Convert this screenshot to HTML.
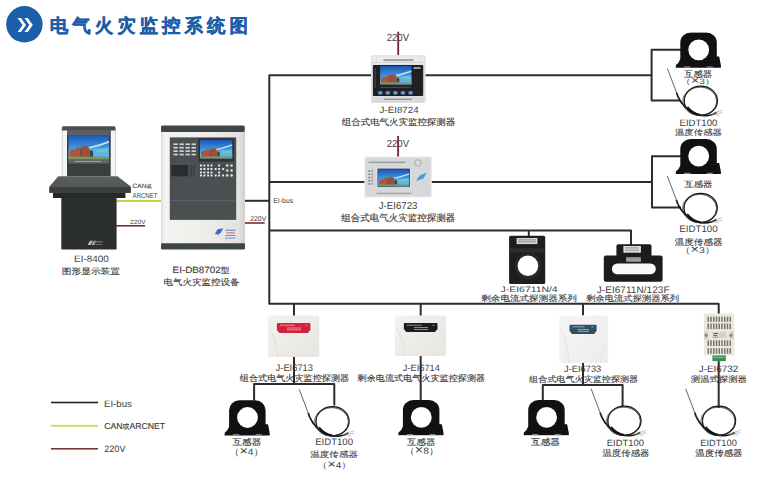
<!DOCTYPE html>
<html><head><meta charset="utf-8"><title>电气火灾监控系统图</title><style>
html,body{margin:0;padding:0;background:#fff;width:762px;height:481px;overflow:hidden;}
svg{display:block;}
text{font-family:"Liberation Sans",sans-serif;text-rendering:geometricPrecision;}
</style></head><body>
<svg width="762" height="481" viewBox="0 0 762 481">
<rect width="762" height="481" fill="#fff"/>
<defs>
<linearGradient id="sky" x1="0" y1="0" x2="0" y2="1">
<stop offset="0" stop-color="#1a55b8"/><stop offset="0.5" stop-color="#3d93dc"/><stop offset="1" stop-color="#8ccdf0"/>
</linearGradient>
<linearGradient id="cab" x1="0" y1="0" x2="1" y2="0">
<stop offset="0" stop-color="#d9d9d6"/><stop offset="0.04" stop-color="#f3f3f1"/><stop offset="0.5" stop-color="#efeeeb"/><stop offset="0.93" stop-color="#e3e2de"/><stop offset="1" stop-color="#cfcecb"/>
</linearGradient>
<linearGradient id="wdev" x1="0" y1="0" x2="1" y2="1">
<stop offset="0" stop-color="#f3f2f0"/><stop offset="1" stop-color="#e6e5e2"/>
</linearGradient>
<linearGradient id="wdev2" x1="0" y1="0" x2="1" y2="1">
<stop offset="0" stop-color="#f7f5f4"/><stop offset="1" stop-color="#eeeceb"/>
</linearGradient>
<linearGradient id="desk" x1="0" y1="0" x2="0" y2="1">
<stop offset="0" stop-color="#5c605d"/><stop offset="1" stop-color="#4c504e"/>
</linearGradient>
<symbol id="scr" viewBox="0 0 100 60" preserveAspectRatio="none">
<rect width="100" height="60" fill="url(#sky)"/>
<path d="M20,34 Q60,30 100,14 L100,19 Q62,34 24,37 Z" fill="#eaf6fc" opacity="0.8"/>
<path d="M52,34 Q78,33 100,30 L100,60 L52,60 Z" fill="#5fb4e6"/>
<path d="M70,36 L96,35 L96,41 L70,42 Z" fill="#7fcbb8" opacity="0.7"/>
<path d="M3,55 L3,40 L10,34 L16,36 L22,30 L30,31 L31,55 Z" fill="#a9573f"/>
<path d="M31,55 L31,31 L37,27 L44,26 L50,30 L53,36 L53,55 Z" fill="#9b4f3c"/>
<rect x="29.8" y="31" width="2" height="23" fill="#5a3a30"/>
<path d="M53,54 L53,40 L57,36 L61,41 L61,54 Z" fill="#3a4a3a"/>
<rect x="0" y="53" width="100" height="7" fill="#7d9660"/>
</symbol>
<symbol id="ct" viewBox="0 0 46 36" preserveAspectRatio="none">
<path d="M4.8,26.8 L4.8,10.5 A10.5,10 0 0 1 15.3,0.3 L30.8,0.3 A10.5,10 0 0 1 41.3,10.5 L41.3,24.4 L43.7,24.4 L45.4,33 L45.4,35.5 L0.2,35.5 L0.2,33 Q3.5,31 4.8,26.8 Z" fill="#111"/>
<circle cx="23.2" cy="17.6" r="10.4" fill="#fff"/>
<rect x="8.6" y="34.2" width="6.4" height="1.3" fill="#8a8a8a"/>
<rect x="31.3" y="34.2" width="6" height="1.3" fill="#8a8a8a"/>
</symbol>
<symbol id="ts" viewBox="0 0 56 50" overflow="visible">
<path d="M0,0 L9,23.7" stroke="#555" stroke-width="0.9" fill="none"/>
<path d="M9,23.7 L10.7,28.4" stroke="#222" stroke-width="1.8" fill="none"/>
<path d="M10.7,28.4 Q16,40 29.6,46 Q42,48.5 49,43.5" stroke="#111" stroke-width="1.6" fill="none"/>
<ellipse cx="33.3" cy="31.9" rx="16.6" ry="14.6" stroke="#111" stroke-width="1.3" fill="none"/>
<ellipse cx="32.2" cy="32.4" rx="17.2" ry="14.2" stroke="#333" stroke-width="0.6" fill="none"/>
<ellipse cx="32.9" cy="32.6" rx="16.4" ry="14.3" stroke="#333" stroke-width="0.5" fill="none"/>
<path d="M20,38 Q25,44.5 33,46" stroke="#111" stroke-width="1.4" fill="none"/>
<path d="M45,44.5 L55,41.5 M46,45 L55,44 M44,45.5 L52,46.5" stroke="#888" stroke-width="0.5" fill="none"/>
</symbol>
</defs>
<circle cx="24.4" cy="24.3" r="18.2" fill="#1b5ea9"/>
<path d="M17.6,18 L22.6,25 L17.6,32 L21,32 L26,25 L21,18 Z M24.4,18 L29.4,25 L24.4,32 L27.8,32 L32.8,25 L27.8,18 Z" fill="#fff"/>
<text transform="translate(49.690 32.233) scale(0.18505 0.18544)" font-size="100" font-weight="bold" letter-spacing="21.5" fill="#1b5ea9" stroke="#1b5ea9" stroke-width="3">电气火灾监控系统图</text>
<text transform="translate(386.722 41.294) scale(0.09561 0.10563)" font-size="100" font-weight="500" fill="#404040">220V</text>
<text transform="translate(379.504 112.910) scale(0.09797 0.09014)" font-size="100" font-weight="500" fill="#404040">J-EI8724</text>
<text transform="translate(341.806 125.457) scale(0.09447 0.08878)" font-size="100" font-weight="500" fill="#3a3a3a" stroke="#3a3a3a" stroke-width="1.5">组合式电气火灾监控探测器</text>
<text transform="translate(386.722 147.099) scale(0.09561 0.10141)" font-size="100" font-weight="500" fill="#404040">220V</text>
<text transform="translate(378.707 208.899) scale(0.09670 0.10141)" font-size="100" font-weight="500" fill="#404040">J-EI6723</text>
<text transform="translate(341.305 221.086) scale(0.09505 0.09388)" font-size="100" font-weight="500" fill="#3a3a3a" stroke="#3a3a3a" stroke-width="1.5">组合式电气火灾监控探测器</text>
<text transform="translate(273.143 202.930) scale(0.06968 0.06986)" font-size="100" font-weight="500" fill="#404040">EI-bus</text>
<text transform="translate(250.258 220.930) scale(0.06842 0.07042)" font-size="100" font-weight="500" fill="#404040">220V</text>
<text transform="translate(132.568 188.342) scale(0.06643 0.06203)" font-size="100" font-weight="500" fill="#3a3a3a" stroke="#3a3a3a" stroke-width="1.5">CAN<tspan font-size="80">或</tspan></text>
<text transform="translate(132.600 197.628) scale(0.06039 0.07183)" font-size="100" font-weight="500" fill="#404040">ARCNET</text>
<text transform="translate(130.064 223.838) scale(0.06711 0.06197)" font-size="100" font-weight="500" fill="#404040">220V</text>
<text transform="translate(74.109 262.007) scale(0.09882 0.09296)" font-size="100" font-weight="500" fill="#404040">EI-8400</text>
<text transform="translate(61.824 273.978) scale(0.09694 0.08144)" font-size="100" font-weight="500" fill="#3a3a3a" stroke="#3a3a3a" stroke-width="1.5">图形显示装置</text>
<text transform="translate(172.614 272.986) scale(0.09823 0.09136)" font-size="100" font-weight="500" fill="#3a3a3a" stroke="#3a3a3a" stroke-width="1.5">EI-DB8702<tspan font-size="88">型</tspan></text>
<text transform="translate(163.536 285.000) scale(0.09492 0.08571)" font-size="100" font-weight="500" fill="#3a3a3a" stroke="#3a3a3a" stroke-width="1.5">电气火灾监控设备</text>
<text transform="translate(684.113 77.266) scale(0.09349 0.08617)" font-size="100" font-weight="500" fill="#3a3a3a" stroke="#3a3a3a" stroke-width="1.5">互感器</text>
<text transform="translate(680.837 84.380) scale(0.10096 0.07766)" font-size="100" font-weight="500" fill="#404040">（<tspan font-size="140">×</tspan>3）</text>
<text transform="translate(679.533 125.807) scale(0.09582 0.09296)" font-size="100" font-weight="500" fill="#404040">EIDT100</text>
<text transform="translate(674.912 135.033) scale(0.09411 0.07778)" font-size="100" font-weight="500" fill="#3a3a3a" stroke="#3a3a3a" stroke-width="1.5">温度传感器</text>
<text transform="translate(684.313 187.017) scale(0.09349 0.08191)" font-size="100" font-weight="500" fill="#3a3a3a" stroke="#3a3a3a" stroke-width="1.5">互感器</text>
<text transform="translate(679.325 232.006) scale(0.09687 0.09437)" font-size="100" font-weight="500" fill="#404040">EIDT100</text>
<text transform="translate(674.709 244.742) scale(0.09573 0.08384)" font-size="100" font-weight="500" fill="#3a3a3a" stroke="#3a3a3a" stroke-width="1.5">温度传感器</text>
<text transform="translate(679.987 253.489) scale(0.10481 0.08298)" font-size="100" font-weight="500" fill="#404040">（<tspan font-size="140">×</tspan>3）</text>
<text transform="translate(500.592 292.221) scale(0.10405 0.07945)" font-size="100" font-weight="500" fill="#404040">J-EI6711N/4</text>
<text transform="translate(481.309 301.186) scale(0.09556 0.07959)" font-size="100" font-weight="500" fill="#3a3a3a" stroke="#3a3a3a" stroke-width="1.5">剩余电流式探测器系列</text>
<text transform="translate(596.798 292.704) scale(0.10098 0.09589)" font-size="100" font-weight="500" fill="#404040">J-EI6711N/123F</text>
<text transform="translate(586.214 301.186) scale(0.09284 0.07959)" font-size="100" font-weight="500" fill="#3a3a3a" stroke="#3a3a3a" stroke-width="1.5">剩余电流式探测器系列</text>
<text transform="translate(275.613 370.904) scale(0.09340 0.09577)" font-size="100" font-weight="500" fill="#404040">J-EI6713</text>
<text transform="translate(239.809 380.800) scale(0.09111 0.08571)" font-size="100" font-weight="500" fill="#3a3a3a" stroke="#3a3a3a" stroke-width="1.5">组合式电气火灾监控探测器</text>
<text transform="translate(402.815 371.008) scale(0.09241 0.09155)" font-size="100" font-weight="500" fill="#404040">J-EI6714</text>
<text transform="translate(357.618 380.829) scale(0.09109 0.08367)" font-size="100" font-weight="500" fill="#3a3a3a" stroke="#3a3a3a" stroke-width="1.5">剩余电流式电气火灾监控探测器</text>
<text transform="translate(564.115 371.908) scale(0.09264 0.09155)" font-size="100" font-weight="500" fill="#404040">J-EI6733</text>
<text transform="translate(529.109 381.571) scale(0.09086 0.08061)" font-size="100" font-weight="500" fill="#3a3a3a" stroke="#3a3a3a" stroke-width="1.5">组合式电气火灾监控探测器</text>
<text transform="translate(698.702 371.607) scale(0.09898 0.09296)" font-size="100" font-weight="500" fill="#404040">J-EI6732</text>
<text transform="translate(690.813 381.748) scale(0.09341 0.08229)" font-size="100" font-weight="500" fill="#3a3a3a" stroke="#3a3a3a" stroke-width="1.5">测温式探测器</text>
<text transform="translate(232.508 444.766) scale(0.09589 0.08617)" font-size="100" font-weight="500" fill="#3a3a3a" stroke="#3a3a3a" stroke-width="1.5">互感器</text>
<text transform="translate(229.244 454.863) scale(0.10240 0.09043)" font-size="100" font-weight="500" fill="#404040">（<tspan font-size="140">×</tspan>4）</text>
<text transform="translate(315.236 444.606) scale(0.09556 0.09437)" font-size="100" font-weight="500" fill="#404040">EIDT100</text>
<text transform="translate(310.309 456.818) scale(0.09533 0.07879)" font-size="100" font-weight="500" fill="#3a3a3a" stroke="#3a3a3a" stroke-width="1.5">温度传感器</text>
<text transform="translate(317.369 468.471) scale(0.10048 0.08404)" font-size="100" font-weight="500" fill="#404040">（<tspan font-size="140">×</tspan>4）</text>
<text transform="translate(406.910 444.679) scale(0.09486 0.08511)" font-size="100" font-weight="500" fill="#3a3a3a" stroke="#3a3a3a" stroke-width="1.5">互感器</text>
<text transform="translate(404.544 454.045) scale(0.10240 0.09149)" font-size="100" font-weight="500" fill="#404040">（<tspan font-size="140">×</tspan>8）</text>
<text transform="translate(531.007 445.053) scale(0.09658 0.08723)" font-size="100" font-weight="500" fill="#3a3a3a" stroke="#3a3a3a" stroke-width="1.5">互感器</text>
<text transform="translate(606.746 445.708) scale(0.09426 0.09155)" font-size="100" font-weight="500" fill="#404040">EIDT100</text>
<text transform="translate(602.412 455.758) scale(0.09411 0.08283)" font-size="100" font-weight="500" fill="#3a3a3a" stroke="#3a3a3a" stroke-width="1.5">温度传感器</text>
<text transform="translate(700.258 445.708) scale(0.09269 0.09155)" font-size="100" font-weight="500" fill="#404040">EIDT100</text>
<text transform="translate(695.311 455.642) scale(0.09451 0.08384)" font-size="100" font-weight="500" fill="#3a3a3a" stroke="#3a3a3a" stroke-width="1.5">温度传感器</text>
<text transform="translate(103.926 406.807) scale(0.09675 0.09315)" font-size="100" font-weight="500" fill="#404040">EI-bus</text>
<text transform="translate(104.267 428.725) scale(0.08662 0.08608)" font-size="100" font-weight="500" fill="#3a3a3a" stroke="#3a3a3a" stroke-width="1.5">CAN<tspan font-size="80">或</tspan>ARCNET</text>
<text transform="translate(104.246 452.007) scale(0.09079 0.09296)" font-size="100" font-weight="500" fill="#404040">220V</text>
<path d="M372,75.3 H269.3 V303.8 H718.7 V314" fill="none" stroke="#2d2d2d" stroke-width="2" stroke-linejoin="round"/>
<path d="M425,75.3 H651.6" fill="none" stroke="#2d2d2d" stroke-width="2" stroke-linejoin="round"/>
<path d="M681,49.7 H651.6 V100.5 H680" fill="none" stroke="#2d2d2d" stroke-width="2" stroke-linejoin="round"/>
<path d="M269.3,181.9 H365" fill="none" stroke="#2d2d2d" stroke-width="2" stroke-linejoin="round"/>
<path d="M431,181.9 H652" fill="none" stroke="#2d2d2d" stroke-width="2" stroke-linejoin="round"/>
<path d="M681,156.2 H652 V207.6 H681" fill="none" stroke="#2d2d2d" stroke-width="2" stroke-linejoin="round"/>
<path d="M269.3,230.4 H631 V245" fill="none" stroke="#2d2d2d" stroke-width="2" stroke-linejoin="round"/>
<path d="M528.8,230.4 V236.5" fill="none" stroke="#2d2d2d" stroke-width="2" stroke-linejoin="round"/>
<path d="M245,200.8 H269.3" fill="none" stroke="#2d2d2d" stroke-width="2" stroke-linejoin="round"/>
<path d="M718.7,361 V408" fill="none" stroke="#2d2d2d" stroke-width="2" stroke-linejoin="round"/>
<path d="M294,303.8 V316" fill="none" stroke="#2d2d2d" stroke-width="2" stroke-linejoin="round"/>
<path d="M294,356.5 V384" fill="none" stroke="#2d2d2d" stroke-width="2" stroke-linejoin="round"/>
<path d="M254.1,400.5 V384 H334.3 V405.5" fill="none" stroke="#2d2d2d" stroke-width="2" stroke-linejoin="round"/>
<path d="M420.7,303.8 V316" fill="none" stroke="#2d2d2d" stroke-width="2" stroke-linejoin="round"/>
<path d="M420.7,355.5 V400.5" fill="none" stroke="#2d2d2d" stroke-width="2" stroke-linejoin="round"/>
<path d="M583,303.8 V315.5" fill="none" stroke="#2d2d2d" stroke-width="2" stroke-linejoin="round"/>
<path d="M583,362.5 V385" fill="none" stroke="#2d2d2d" stroke-width="2" stroke-linejoin="round"/>
<path d="M542.8,400.5 V385 H622.6 V406.5" fill="none" stroke="#2d2d2d" stroke-width="2" stroke-linejoin="round"/>
<rect x="397.25" y="31.7" width="1.9" height="23.5" fill="#7d2c38"/>
<rect x="397.15" y="136" width="1.9" height="21" fill="#7d2c38"/>
<rect x="115.8" y="225" width="29.2" height="1.6" fill="#7d2c38"/>
<rect x="245" y="222.2" width="19.7" height="1.6" fill="#7d2c38"/>
<rect x="116.5" y="200" width="45" height="2" fill="#bdd635"/>
<rect x="51" y="401.7" width="47" height="1.6" fill="#222"/>
<rect x="51" y="424.9" width="47" height="1.8" fill="#c5dc4e"/>
<rect x="51" y="448" width="47" height="1.6" fill="#7a3a3a"/>
<g>
<rect x="61.7" y="127" width="54" height="49.5" fill="#f5f5f5"/>
<rect x="61.7" y="127" width="0.8" height="49.5" fill="#c8c8c8"/>
<rect x="114.9" y="127" width="0.8" height="49.5" fill="#c8c8c8"/>
<path d="M62.5,126.2 L115,126.2 L115.7,130.6 L61.7,130.6 Z" fill="#4b4f52"/>
<rect x="67" y="130.3" width="43.7" height="46" fill="#3a3e3d"/>
<rect x="67" y="130.3" width="43.7" height="4.7" fill="#5b5f5e"/>
<use href="#scr" x="68.3" y="135" width="40.7" height="24.5"/>
<rect x="68.3" y="159.3" width="40.7" height="4.2" fill="#62676a"/>
<rect x="75" y="161" width="26" height="1" fill="#9a9ea0"/>
<rect x="61.3" y="190" width="55.3" height="59.6" rx="0.8" fill="#2b2f2d"/>
<rect x="53" y="192.5" width="72.4" height="5.5" fill="#252a27"/>
<path d="M58.3,176.2 L117.5,176.2 L130.8,186.6 L130.8,192.8 L49.4,192.8 L49.4,186.6 Z" fill="url(#desk)"/>
<rect x="49.4" y="187.2" width="81.4" height="5.6" fill="#3a3f3c"/>
<path d="M87.5,245 L90,240.8 L93,240.8 L90.5,245 Z M91.5,245 L94,240.8 L96,240.8 L93.5,245 Z" fill="#b8bcbb"/>
<rect x="94" y="241.4" width="8.5" height="0.9" fill="#8a8e8d"/><rect x="94" y="243.9" width="8.5" height="0.8" fill="#7a7e7d"/>
</g>
<g>
<rect x="161" y="126" width="84" height="123" rx="1" fill="url(#cab)"/>
<rect x="161" y="125.4" width="83.7" height="6.5" rx="1.5" fill="#3e4547"/>
<rect x="161" y="243.2" width="84" height="6.3" rx="1.2" fill="#3e4547"/>
<rect x="169.8" y="137.4" width="66.4" height="82.5" fill="#4a4f52"/>
<rect x="169.8" y="200" width="66.4" height="0.7" fill="#63686b"/>
<rect x="198.5" y="138.3" width="35.5" height="23.2" fill="#2f3335"/>
<use href="#scr" x="200" y="139.9" width="32.4" height="18.7"/>
<rect x="171.4" y="165" width="16.7" height="11.3" fill="#2a2d2f"/>
<rect x="190.6" y="165" width="1.3" height="11.3" fill="#3a3e40"/>
<rect x="193" y="165" width="1.3" height="11.3" fill="#3a3e40"/>

<rect x="173.4" y="143.4" width="4.4" height="1.7" fill="#cfd2d4"/>
<rect x="179.4" y="143.4" width="4.4" height="1.7" fill="#cfd2d4"/>
<rect x="185.5" y="143.4" width="4.4" height="1.7" fill="#cfd2d4"/>
<rect x="191.5" y="143.4" width="4.4" height="1.7" fill="#cfd2d4"/>
<rect x="173.4" y="146.9" width="4.4" height="1.7" fill="#cfd2d4"/>
<rect x="179.4" y="146.9" width="4.4" height="1.7" fill="#cfd2d4"/>
<rect x="185.5" y="146.9" width="4.4" height="1.7" fill="#cfd2d4"/>
<rect x="191.5" y="146.9" width="4.4" height="1.7" fill="#cfd2d4"/>
<rect x="173.4" y="150.3" width="4.4" height="1.7" fill="#cfd2d4"/>
<rect x="179.4" y="150.3" width="4.4" height="1.7" fill="#cfd2d4"/>
<rect x="185.5" y="150.3" width="4.4" height="1.7" fill="#cfd2d4"/>
<rect x="191.5" y="150.3" width="4.4" height="1.7" fill="#cfd2d4"/>
<rect x="173.4" y="153.7" width="4.4" height="1.7" fill="#cfd2d4"/>
<rect x="179.4" y="153.7" width="4.4" height="1.7" fill="#cfd2d4"/>
<rect x="185.5" y="153.7" width="4.4" height="1.7" fill="#cfd2d4"/>
<rect x="191.5" y="153.7" width="4.4" height="1.7" fill="#cfd2d4"/>
<rect x="200" y="164.5" width="2" height="2" rx="0.4" fill="#e8eaeb"/>
<rect x="200" y="168" width="2" height="2" rx="0.4" fill="#e8eaeb"/>
<rect x="200" y="171.4" width="2" height="2" rx="0.4" fill="#e8eaeb"/>
<rect x="200" y="174.4" width="2" height="2" rx="0.4" fill="#e8eaeb"/>
<rect x="203.4" y="164.5" width="2" height="2" rx="0.4" fill="#e8eaeb"/>
<rect x="203.4" y="168" width="2" height="2" rx="0.4" fill="#e8eaeb"/>
<rect x="203.4" y="171.4" width="2" height="2" rx="0.4" fill="#e8eaeb"/>
<rect x="203.4" y="174.4" width="2" height="2" rx="0.4" fill="#e8eaeb"/>
<rect x="207.1" y="164.5" width="2" height="2" rx="0.4" fill="#e8eaeb"/>
<rect x="207.1" y="168" width="2" height="2" rx="0.4" fill="#e8eaeb"/>
<rect x="207.1" y="171.4" width="2" height="2" rx="0.4" fill="#e8eaeb"/>
<rect x="207.1" y="174.4" width="2" height="2" rx="0.4" fill="#e8eaeb"/>
<rect x="210.5" y="164.5" width="2" height="2" rx="0.4" fill="#e8eaeb"/>
<rect x="210.5" y="168" width="2" height="2" rx="0.4" fill="#e8eaeb"/>
<rect x="210.5" y="171.4" width="2" height="2" rx="0.4" fill="#e8eaeb"/>
<rect x="210.5" y="174.4" width="2" height="2" rx="0.4" fill="#e8eaeb"/>
<rect x="214.7" y="168" width="2" height="2" rx="0.4" fill="#e8eaeb"/>
<rect x="214.7" y="174.4" width="2" height="2" rx="0.4" fill="#e8eaeb"/>
<rect x="218.1" y="164.5" width="2" height="2" rx="0.4" fill="#e8eaeb"/>
<rect x="218.1" y="168" width="2" height="2" rx="0.4" fill="#e8eaeb"/>
<rect x="218.1" y="171.4" width="2" height="2" rx="0.4" fill="#e8eaeb"/>
<rect x="218.1" y="174.4" width="2" height="2" rx="0.4" fill="#e8eaeb"/>
<rect x="222.1" y="168" width="2" height="2" rx="0.4" fill="#e8eaeb"/>
<rect x="222.1" y="174.4" width="2" height="2" rx="0.4" fill="#e8eaeb"/>
<circle cx="227.2" cy="165.5" r="1.3" fill="#d9dcdd"/>
<circle cx="231.6" cy="165.5" r="1.3" fill="#d9dcdd"/>
<circle cx="227.2" cy="170.5" r="1.3" fill="#d9dcdd"/>
<circle cx="231.6" cy="170.5" r="1.3" fill="#d9dcdd"/>
<circle cx="227.2" cy="175.4" r="1.3" fill="#d9dcdd"/>
<circle cx="231.6" cy="175.4" r="1.3" fill="#d9dcdd"/>
<path d="M214.8,234.3 L217.5,229.3 L223.2,228.3 L220.5,233.3 Z" fill="#2f6fd0"/>
<path d="M216.5,234.8 L219,231 L221,231 L218.5,234.8 Z" fill="#2f6fd0"/>
<rect x="225.5" y="229.7" width="10" height="1" fill="#4a82d8"/>
<rect x="226.5" y="232.4" width="8" height="1" fill="#d45a5a"/>
<rect x="225" y="235" width="10.5" height="0.9" fill="#5a8ad8"/>
<rect x="225" y="237.6" width="10.5" height="0.9" fill="#5a8ad8"/>
</g>
<g>
<rect x="371" y="55.2" width="54.6" height="47.8" rx="1" fill="#e0e0e0"/>
<rect x="372.5" y="56.5" width="51.6" height="7.8" fill="#ebebeb"/>
<rect x="383.4" y="59.1" width="30.3" height="2" fill="#a4a4a4"/>
<rect x="372.5" y="62.1" width="51.6" height="0.6" fill="#c4c4c4"/>
<rect x="376" y="56.5" width="0.5" height="5.5" fill="#d0d0d0"/><rect x="420" y="56.5" width="0.5" height="5.5" fill="#d0d0d0"/>
<rect x="372.9" y="64.9" width="50.3" height="31.1" rx="1" fill="#1f2023"/>
<use href="#scr" x="380.1" y="66" width="31.5" height="18.6"/>
<rect x="380.5" y="86.8" width="30" height="0.9" fill="#555"/>
<rect x="374.3" y="68" width="1.6" height="20" fill="#3c3c3c"/>
<rect x="413.5" y="67" width="7" height="2" fill="#9a9a9a"/>

<ellipse cx="380.3" cy="92.9" rx="2.4" ry="1.8" fill="#6b8fd3"/>
<ellipse cx="387.8" cy="92.9" rx="2.4" ry="1.8" fill="#6b8fd3"/>
<ellipse cx="395.4" cy="92.9" rx="2.4" ry="1.8" fill="#6b8fd3"/>
<ellipse cx="402.9" cy="92.9" rx="2.4" ry="1.8" fill="#6b8fd3"/>
<ellipse cx="410.6" cy="92.9" rx="2.4" ry="1.8" fill="#6b8fd3"/>
<rect x="372.5" y="96.8" width="51.6" height="5.6" fill="#d9d9d9"/>
<rect x="384" y="98.6" width="28" height="1.2" fill="#8a8a8a"/>
</g>
<g>
<rect x="364.3" y="156.5" width="67.6" height="41.1" rx="1.2" fill="#ececed"/>
<rect x="365.4" y="157.6" width="65.4" height="38.9" fill="#d7d8da"/>
<rect x="368.6" y="161.6" width="36.8" height="1.5" fill="#9a9ca0"/>
<circle cx="418" cy="163" r="3.3" fill="none" stroke="#8a8c90" stroke-width="0.6"/>
<rect x="376.6" y="167.8" width="34.2" height="20.2" fill="#e4e5e7"/>
<rect x="377.5" y="168.6" width="32.4" height="18.5" fill="#27365a"/>
<use href="#scr" x="378.1" y="169.2" width="31.2" height="17.3"/>
<path d="M416,181 L419.5,175.5 L426.5,172.8 L423.5,178.5 Z" fill="#3aa2e2"/>
<rect x="376.5" y="192.6" width="35" height="1.5" fill="#a6a8ac"/>

<rect x="368.5" y="170.5" width="1.3" height="1.3" fill="#555"/><rect x="370.8" y="170" width="2.5" height="2" fill="#aaa"/>
<rect x="368.5" y="173.7" width="1.3" height="1.3" fill="#555"/><rect x="370.8" y="173.2" width="2.5" height="2" fill="#aaa"/>
<rect x="368.5" y="176.9" width="1.3" height="1.3" fill="#555"/><rect x="370.8" y="176.4" width="2.5" height="2" fill="#aaa"/>
<rect x="368.5" y="180.1" width="1.3" height="1.3" fill="#555"/><rect x="370.8" y="179.6" width="2.5" height="2" fill="#aaa"/>
<rect x="368.5" y="183.3" width="1.3" height="1.3" fill="#555"/><rect x="370.8" y="182.8" width="2.5" height="2" fill="#aaa"/>
</g>
<g>
<rect x="509.1" y="235.8" width="36.1" height="48.2" rx="1.5" fill="#1e1e1e"/>
<rect x="516.6" y="238" width="20.8" height="6.1" fill="#d9d9d9"/>
<rect x="518" y="239.5" width="18" height="0.8" fill="#777"/><rect x="518" y="241.5" width="18" height="0.8" fill="#777"/>
<rect x="510" y="248.3" width="34.3" height="4.1" fill="#2e2e2e"/>
<circle cx="527.9" cy="265.7" r="13.2" fill="#282828"/>
<circle cx="527.9" cy="265.7" r="10.3" fill="#fff"/>
</g>
<g>
<rect x="616.4" y="244.3" width="35.1" height="13" rx="2" fill="#1c1c1c"/>
<rect x="623.4" y="246" width="17.5" height="6.7" fill="#e2e2e2"/>
<rect x="625" y="247.5" width="14" height="0.8" fill="#777"/><rect x="625" y="249.8" width="14" height="0.8" fill="#777"/>
<rect x="603.8" y="255.4" width="58.8" height="26.4" rx="2" fill="#1c1c1c"/>
<rect x="626.1" y="257.2" width="14.8" height="4.6" fill="#9c9c9c"/>
<rect x="611.9" y="263.5" width="43.9" height="10.8" rx="5.4" fill="#fafafa"/>
</g>
<rect x="267.9" y="315.4" width="51.4" height="41.6" rx="2" fill="url(#wdev)"/>
<path d="M269.4,327.88 Q275.9,338.28 277.9,357" stroke="#d6d5d3" stroke-width="0.6" fill="none"/>
<path d="M317.8,338.28 Q312.3,346.6 311.3,357" stroke="#e0dfdd" stroke-width="0.5" fill="none"/>
<path d="M277.9,323 L309.4,323 Q310.4,323 310.4,324 L310.4,329.9 L307.9,332.9 L279.4,332.9 L276.9,329.9 L276.9,324 Q276.9,323 277.9,323 Z" fill="#d2223c"/>
<rect x="279.9" y="324.8" width="15.08" height="0.7" fill="#fff" opacity="0.7"/>
<rect x="305.4" y="324.8" width="2" height="0.7" fill="#fff" opacity="0.7"/>
<rect x="286.95" y="327.65" width="14.07" height="0.7" fill="#fff" opacity="0.7"/>
<rect x="286.95" y="329.53" width="14.07" height="0.7" fill="#fff" opacity="0.7"/>
<rect x="394.9" y="315.4" width="51.3" height="40.5" rx="2" fill="url(#wdev)"/>
<path d="M396.4,327.55 Q402.9,337.67 404.9,355.9" stroke="#d6d5d3" stroke-width="0.6" fill="none"/>
<path d="M444.7,337.67 Q439.2,345.77 438.2,355.9" stroke="#e0dfdd" stroke-width="0.5" fill="none"/>
<path d="M404.8,323 L436.5,323 Q437.5,323 437.5,324 L437.5,329.1 L435,332.1 L406.3,332.1 L403.8,329.1 L403.8,324 Q403.8,323 404.8,323 Z" fill="#1d1d1f"/>
<rect x="406.8" y="324.8" width="15.17" height="0.7" fill="#fff" opacity="0.7"/>
<rect x="432.5" y="324.8" width="2" height="0.7" fill="#fff" opacity="0.7"/>
<rect x="413.91" y="327.28" width="14.15" height="0.7" fill="#fff" opacity="0.7"/>
<rect x="413.91" y="329.01" width="14.15" height="0.7" fill="#fff" opacity="0.7"/>
<rect x="559.2" y="315.4" width="48.9" height="47.7" rx="2" fill="url(#wdev2)"/>
<path d="M560.7,329.71 Q567.2,341.63 569.2,363.1" stroke="#d6d5d3" stroke-width="0.6" fill="none"/>
<path d="M606.6,341.63 Q601.1,351.17 600.1,363.1" stroke="#e0dfdd" stroke-width="0.5" fill="none"/>
<path d="M570.5,324.7 L595.6,324.7 Q596.6,324.7 596.6,325.7 L596.6,331.1 L594.1,334.1 L572,334.1 L569.5,331.1 L569.5,325.7 Q569.5,324.7 570.5,324.7 Z" fill="#2f5064"/>
<rect x="572.5" y="326.5" width="12.2" height="0.7" fill="#fff" opacity="0.7"/>
<rect x="591.6" y="326.5" width="2" height="0.7" fill="#fff" opacity="0.7"/>
<rect x="577.63" y="329.12" width="11.38" height="0.7" fill="#fff" opacity="0.7"/>
<rect x="577.63" y="330.9" width="11.38" height="0.7" fill="#fff" opacity="0.7"/>
<g>
<rect x="703.9" y="313.4" width="30.4" height="42.3" rx="1" fill="#ebe8df"/>
<rect x="712.4" y="355.5" width="13.4" height="5.6" fill="#3b8c57"/>
<rect x="713.5" y="357" width="11" height="1" fill="#7cc08e"/>

<rect x="707.5" y="316.7" width="1.5" height="5.1" fill="#77756d"/>
<rect x="707.5" y="323.5" width="1.5" height="5.6" fill="#77756d"/>
<rect x="707.5" y="340.3" width="1.5" height="5.7" fill="#77756d"/>
<rect x="707.5" y="348.2" width="1.5" height="5.6" fill="#77756d"/>
<rect x="710.25" y="316.7" width="1.5" height="5.1" fill="#77756d"/>
<rect x="710.25" y="323.5" width="1.5" height="5.6" fill="#77756d"/>
<rect x="710.25" y="340.3" width="1.5" height="5.7" fill="#77756d"/>
<rect x="710.25" y="348.2" width="1.5" height="5.6" fill="#77756d"/>
<rect x="713" y="316.7" width="1.5" height="5.1" fill="#77756d"/>
<rect x="713" y="323.5" width="1.5" height="5.6" fill="#77756d"/>
<rect x="713" y="340.3" width="1.5" height="5.7" fill="#77756d"/>
<rect x="713" y="348.2" width="1.5" height="5.6" fill="#77756d"/>
<rect x="715.75" y="316.7" width="1.5" height="5.1" fill="#77756d"/>
<rect x="715.75" y="323.5" width="1.5" height="5.6" fill="#77756d"/>
<rect x="715.75" y="340.3" width="1.5" height="5.7" fill="#77756d"/>
<rect x="715.75" y="348.2" width="1.5" height="5.6" fill="#77756d"/>
<rect x="718.5" y="316.7" width="1.5" height="5.1" fill="#77756d"/>
<rect x="718.5" y="323.5" width="1.5" height="5.6" fill="#77756d"/>
<rect x="718.5" y="340.3" width="1.5" height="5.7" fill="#77756d"/>
<rect x="718.5" y="348.2" width="1.5" height="5.6" fill="#77756d"/>
<rect x="721.25" y="316.7" width="1.5" height="5.1" fill="#77756d"/>
<rect x="721.25" y="323.5" width="1.5" height="5.6" fill="#77756d"/>
<rect x="721.25" y="340.3" width="1.5" height="5.7" fill="#77756d"/>
<rect x="721.25" y="348.2" width="1.5" height="5.6" fill="#77756d"/>
<rect x="724" y="316.7" width="1.5" height="5.1" fill="#77756d"/>
<rect x="724" y="323.5" width="1.5" height="5.6" fill="#77756d"/>
<rect x="724" y="340.3" width="1.5" height="5.7" fill="#77756d"/>
<rect x="724" y="348.2" width="1.5" height="5.6" fill="#77756d"/>
<rect x="726.75" y="316.7" width="1.5" height="5.1" fill="#77756d"/>
<rect x="726.75" y="323.5" width="1.5" height="5.6" fill="#77756d"/>
<rect x="726.75" y="340.3" width="1.5" height="5.7" fill="#77756d"/>
<rect x="726.75" y="348.2" width="1.5" height="5.6" fill="#77756d"/>
<rect x="729.5" y="316.7" width="1.5" height="5.1" fill="#77756d"/>
<rect x="729.5" y="323.5" width="1.5" height="5.6" fill="#77756d"/>
<rect x="729.5" y="340.3" width="1.5" height="5.7" fill="#77756d"/>
<rect x="729.5" y="348.2" width="1.5" height="5.6" fill="#77756d"/>
<rect x="704.3" y="331.5" width="4" height="7.5" fill="#cfccc2"/><circle cx="706.2" cy="335.3" r="1.6" fill="#8a887f"/>
<rect x="729.6" y="331.5" width="4" height="7.5" fill="#cfccc2"/><circle cx="730.9" cy="335.3" r="1.6" fill="#8a887f"/>
<rect x="712.4" y="331.9" width="14" height="6.2" fill="#d4d2ca"/>
<rect x="713.5" y="333" width="4.5" height="0.9" fill="#555"/><rect x="713.5" y="335" width="3.5" height="0.9" fill="#555"/><rect x="713.5" y="336.8" width="4.5" height="0.7" fill="#777"/>
</g>
<use href="#ct" x="675.5" y="32.2" width="46" height="36"/>
<use href="#ct" x="675.5" y="138.6" width="46" height="36"/>
<use href="#ct" x="224.3" y="399.9" width="46" height="36"/>
<use href="#ct" x="398.1" y="399.8" width="46" height="36"/>
<use href="#ct" x="523.4" y="399.8" width="46" height="36"/>
<use href="#ts" x="667.5" y="68.8" width="56" height="50"/>
<use href="#ts" x="667.3" y="176.0" width="56" height="50"/>
<use href="#ts" x="299.2" y="389.3" width="56" height="50"/>
<use href="#ts" x="591.1" y="388.8" width="56" height="50"/>
<use href="#ts" x="685.7" y="388.8" width="56" height="50"/>
</svg>
</body></html>
